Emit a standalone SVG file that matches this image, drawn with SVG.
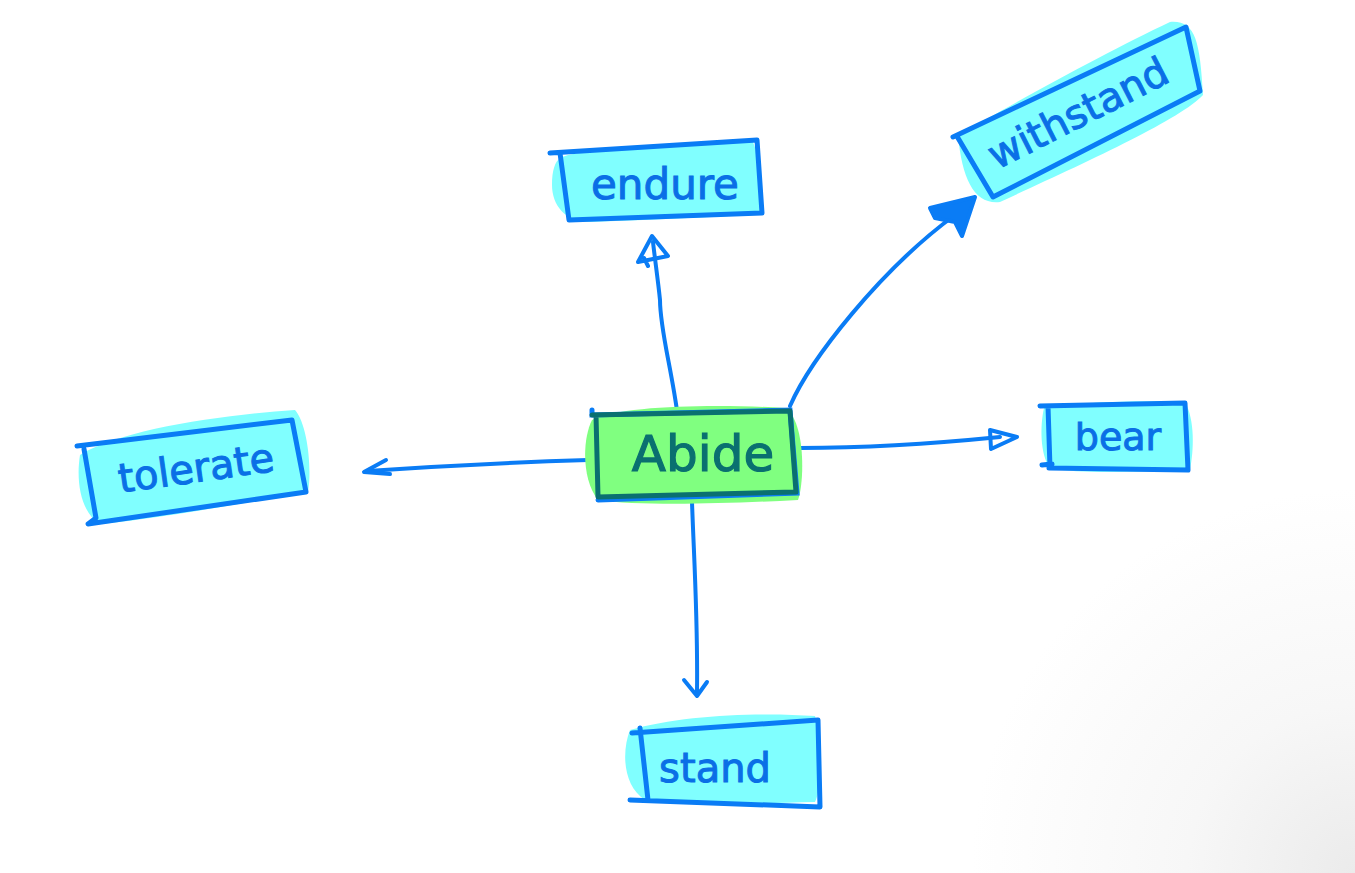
<svg xmlns="http://www.w3.org/2000/svg" width="1355" height="873" viewBox="0 0 1355 873">
<defs>
<radialGradient id="bg" cx="1355" cy="873" r="480" gradientUnits="userSpaceOnUse">
<stop offset="0" stop-color="#ebebeb"/>
<stop offset="0.35" stop-color="#f7f7f7"/>
<stop offset="0.8" stop-color="#ffffff"/>
</radialGradient>
<style>
.box{fill:none;stroke:#0a7cf5;stroke-width:5;stroke-linecap:round;stroke-linejoin:round}
.fill{fill:#80ffff}
.lbl{font-family:"DejaVu Sans",sans-serif;fill:#0a6fe6;text-anchor:middle;dominant-baseline:central;stroke:#0a6fe6;stroke-width:1}
.edge{fill:none;stroke:#0a7cf5;stroke-width:4;stroke-linecap:round;stroke-linejoin:round}
</style>
</defs>
<rect width="1355" height="873" fill="url(#bg)"/>
<g id="connectors">
<path class="edge" d="M678 418 C672 370 660 330 660 300 C658 280 655 260 653 242"/>
<path class="edge" d="M638 262 L652 236 L668 256 Z M644 258 L648 266"/>
<path class="edge" d="M790 406 C810 360 880 270 955 215"/>
<path d="M930 208 L975 197 L962 236 L955 222 L935 218 Z" fill="#0a7cf5" stroke="#0a7cf5" stroke-width="4" stroke-linejoin="round"/>
<path class="edge" d="M800 448 C880 448 950 442 1000 437"/>
<path class="edge" d="M990 430 L1017 437 L991 449 Z"/>
<path class="edge" d="M588 460 C520 462 440 466 368 471"/>
<path class="edge" d="M386 460 L364 472 L390 474"/>
<path class="edge" d="M692 502 C694 560 698 620 697 692"/>
<path class="edge" d="M684 680 L697 696 L707 682"/>
</g>
<g id="node-endure">
<path class="fill" d="M560 158 C580 148 680 144 752 140 C762 160 760 200 760 214 C700 218 640 220 590 222 C565 222 552 205 552 185 C552 170 555 162 560 158 Z"/>
<path class="box" d="M550 153 L757 140 L762 213 L569 220 L560 153"/>
<text class="lbl" x="665" y="184" font-size="42">endure</text>
</g>
<g id="node-withstand">
<path class="fill" d="M958 135 C1020 100 1110 50 1170 22 C1195 20 1200 40 1203 95 C1180 120 1080 165 1000 202 C975 205 962 180 958 135 Z"/>
<path class="box" d="M953 137 L1186 27 L1200 91 L993 197 L958 138"/>
<text class="lbl" x="1078" y="113" font-size="40" transform="rotate(-27 1078 113)">withstand</text>
</g>
<g id="node-abide">
<path d="M592 420 C620 405 720 404 785 408 C805 420 805 480 798 500 C720 504 640 506 598 500 C582 480 582 440 592 420 Z" fill="#80ff80"/>
<path d="M592 410 L592 415 L790 410 L797 493 L598 500" fill="none" stroke="#0a7cf5" stroke-width="5" stroke-linecap="round"/>
<path d="M592 415 L790 411 L796 492 L598 497 L596 415" fill="none" stroke="#0a7070" stroke-width="5" stroke-linecap="round" stroke-linejoin="round"/>
<text x="703" y="454" font-size="50" font-family="DejaVu Sans,sans-serif" fill="#0a7070" stroke="#0a7070" stroke-width="1.2" text-anchor="middle" dominant-baseline="central">Abide</text>
</g>
<g id="node-tolerate">
<path class="fill" d="M80 455 C120 430 220 415 295 410 C308 425 312 470 308 492 C250 502 150 520 100 524 C80 512 76 480 80 455 Z"/>
<path class="box" d="M77 446 L292 420 L306 492 L88 524 L96 518 L84 449"/>
<text class="lbl" x="196" y="468" font-size="40" transform="rotate(-8 196 468)">tolerate</text>
</g>
<g id="node-bear">
<path class="fill" d="M1044 408 C1080 402 1140 400 1185 402 C1195 420 1194 450 1190 470 C1130 472 1080 474 1050 468 C1040 455 1040 425 1044 408 Z"/>
<path class="box" d="M1040 406 L1185 403 L1188 470 L1049 468 M1042 465 L1052 464 M1048 406 L1050 468"/>
<text class="lbl" x="1118" y="437" font-size="38">bear</text>
</g>
<g id="node-stand">
<path class="fill" d="M630 730 C680 715 760 712 815 716 C822 740 822 790 815 802 C740 804 680 806 645 800 C622 785 622 750 630 730 Z"/>
<path class="box" d="M632 733 L818 720 L820 807 L630 800 M640 728 L648 800"/>
<text class="lbl" x="715" y="768" font-size="40">stand</text>
</g>
</svg>
